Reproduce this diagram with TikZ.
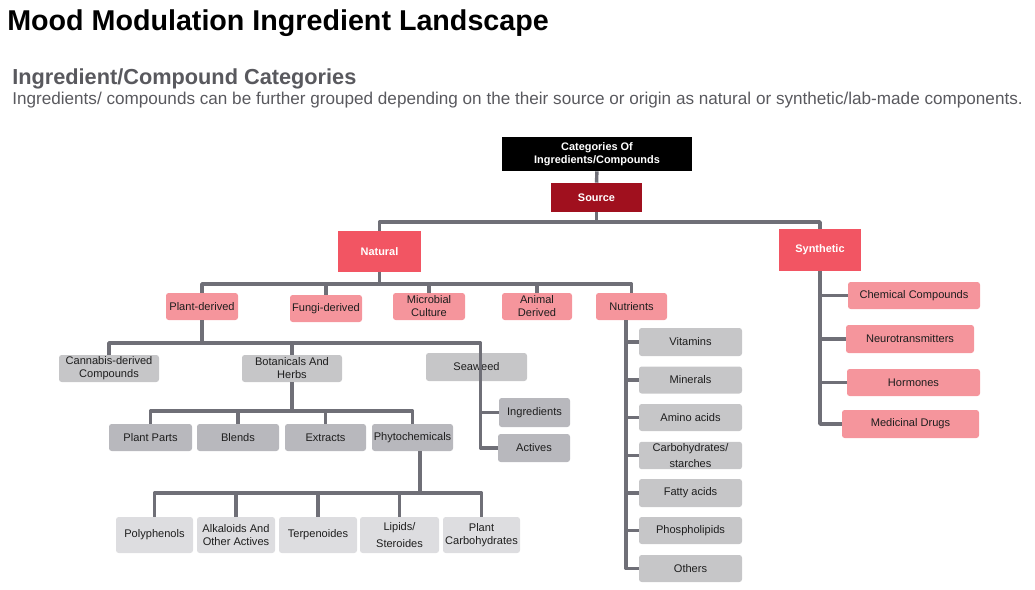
\documentclass[tikz,border=0pt]{standalone}
\usepackage{fontspec}
\setmainfont{Liberation Sans}
\usepackage{tikz}

\definecolor{catbg}{HTML}{000000}
\definecolor{srcbg}{HTML}{A0101E}
\definecolor{natbg}{HTML}{F25563}
\definecolor{pinkbg}{HTML}{F5959C}
\definecolor{greybg}{HTML}{C6C6C8}
\definecolor{darkgreybg}{HTML}{B8B8BD}
\definecolor{lightgreybg}{HTML}{DDDDE0}
\definecolor{linegrey}{HTML}{6F6F77}
\definecolor{headgrey}{HTML}{59595E}
\definecolor{boxtext}{HTML}{1E1E1E}

\tikzset{
    conn/.style={draw=linegrey, line width=2.6pt, line join=round},
    box/.style={rounded corners=2pt, inner sep=1pt, align=center, text=boxtext,
                font=\fontsize{8.3}{9.8}\selectfont},
    sz/.style 2 args={minimum width=#1*0.75pt, minimum height=#2*0.75pt},
    topbox/.style={box, rounded corners=0pt, text=white, font=\fontsize{8.2}{9.8}\selectfont\bfseries},
    pinkbox/.style={box, fill=pinkbg},
    greybox/.style={box, fill=greybg},
    darkbox/.style={box, fill=darkgreybg},
    lightbox/.style={box, fill=lightgreybg}
}

\begin{document}
\begin{tikzpicture}[x=0.75pt,y=-0.75pt]

    \useasboundingbox (0,0) rectangle (1035,589);

    % headings
    \node[anchor=base west, inner sep=0pt, font=\fontsize{21.5}{24}\selectfont\bfseries] (title) at (7,30) {Mood Modulation Ingredient Landscape};
    \node[anchor=base west, inner sep=0pt, text=headgrey, font=\fontsize{16.3}{19}\selectfont\bfseries] (subtitle) at (12,84) {Ingredient/Compound Categories};
    \node[anchor=base west, inner sep=0pt, text=headgrey, font=\fontsize{12.85}{15}\selectfont] (desc) at (12,104) {Ingredients/ compounds can be further grouped depending on the their source or origin as natural or synthetic/lab-made components.};

    % top of the tree
    \node[topbox, fill=catbg, sz={190}{34}] (cat) at (597,154) {Categories Of\\Ingredients/Compounds};
    \node[topbox, fill=srcbg, sz={91}{29}] (src) at (596.5,197.5) {Source};
    \node[topbox, fill=natbg, sz={83}{41}] (nat) at (379.5,251.5) {Natural};
    \node[topbox, fill=natbg, sz={82}{42}] (syn) at (820,250) {Synthetic};

    % natural sources
    \node[pinkbox, sz={72}{27}] (plant) at (202,306.5) {Plant-derived};
    \node[pinkbox, sz={72}{27}] (fungi) at (326,308.5) {Fungi-derived};
    \node[pinkbox, sz={72}{27}] (micro) at (429,306.5) {Microbial\\Culture};
    \node[pinkbox, sz={70}{27}] (animal) at (537,306.5) {Animal\\Derived};
    \node[pinkbox, sz={71}{27}] (nutr) at (631.5,306.5) {Nutrients};

    % plant-derived
    \node[greybox, sz={100}{27}] (cann) at (109,368.5) {Cannabis-derived\\Compounds};
    \node[greybox, sz={100}{27}] (bot) at (292,368.5) {Botanicals And\\Herbs};
    \node[greybox, sz={101}{28}] (sea) at (476.5,367) {Seaweed};

    \node[darkbox, sz={83}{27}] (pparts) at (150.5,437.5) {Plant Parts};
    \node[darkbox, sz={82}{27}] (blends) at (238,437.5) {Blends};
    \node[darkbox, sz={81}{27}] (extr) at (325.5,437.5) {Extracts};
    \node[darkbox, sz={81}{27}] (phyto) at (412.5,437.5) {Phytochemicals};

    \node[darkbox, sz={71}{29}] (ingr) at (534.5,412.5) {Ingredients};
    \node[darkbox, sz={72}{28}] (act) at (534,448) {Actives};

    \node[lightbox, sz={77}{36}] (poly) at (154.5,535) {Polyphenols};
    \node[lightbox, sz={78}{36}] (alk) at (236,535) {Alkaloids And\\Other Actives};
    \node[lightbox, sz={78}{36}] (terp) at (318,535) {Terpenoides};
    \node[lightbox, sz={79}{36}, font=\fontsize{8.3}{12.5}\selectfont] (lip) at (399.5,535) {Lipids/\\Steroides};
    \node[lightbox, sz={77}{36}] (pcarb) at (481.5,535) {Plant\\Carbohydrates};

    % nutrients
    \node[greybox, sz={103}{28}] (vit) at (690.5,342) {Vitamins};
    \node[greybox, sz={103}{27}] (min) at (690.5,380) {Minerals};
    \node[greybox, sz={103}{27}] (amino) at (690.5,417.5) {Amino acids};
    \node[greybox, sz={103}{27}, font=\fontsize{8.3}{12.5}\selectfont] (carb) at (690.5,455.5) {Carbohydrates/\\starches};
    \node[greybox, sz={103}{28}] (fatty) at (690.5,493) {Fatty acids};
    \node[greybox, sz={103}{27}] (phos) at (690.5,530.5) {Phospholipids};
    \node[greybox, sz={103}{27}] (oth) at (690.5,568.5) {Others};

    % synthetic
    \node[pinkbox, sz={132}{27}] (chem) at (914,295.5) {Chemical Compounds};
    \node[pinkbox, sz={128}{28}] (neuro) at (910,339) {Neurotransmitters};
    \node[pinkbox, sz={133}{27}] (horm) at (913.5,382.5) {Hormones};
    \node[pinkbox, sz={137}{28}] (med) at (910.5,424) {Medicinal Drugs};

    % bus lines
    \coordinate (busA) at (0,222);
    \coordinate (busB) at (0,284);
    \coordinate (busC) at (0,343);
    \coordinate (busD) at (0,411);
    \coordinate (busE) at (0,493);
    \coordinate (seastem) at ([xshift=3pt]sea.south);
    \coordinate (nutstem) at ([xshift=-4pt]nutr.south);
    \coordinate (phystem) at ([xshift=5.5pt]phyto.south);

    % connectors
    \draw[conn] (cat) -- (src);
    \draw[conn] (src) -- (src |- busA);
    \draw[conn] (nat) |- (busA -| syn) -- (syn);

    \draw[conn] (nat) -- (nat |- busB);
    \draw[conn] (plant) |- (busB -| nutr) -- (nutr);
    \foreach \nm in {fungi,micro,animal}
      \draw[conn] (\nm) -- (\nm |- busB);

    \draw[conn] (plant) -- (plant |- busC);
    \draw[conn] (cann) |- (busC -| seastem) -- (seastem);
    \draw[conn] (bot) -- (bot |- busC);

    \draw[conn] (bot) -- (bot |- busD);
    \draw[conn] (pparts) |- (busD -| phyto) -- (phyto);
    \foreach \nm in {blends,extr}
      \draw[conn] (\nm) -- (\nm |- busD);

    \draw[conn] (phystem) -- (phystem |- busE);
    \draw[conn] (poly) |- (busE -| pcarb) -- (pcarb);
    \foreach \nm in {alk,terp,lip}
      \draw[conn] (\nm) -- (\nm |- busE);

    \draw[conn] (seastem) |- (act);
    \draw[conn] (ingr) -- (ingr -| seastem);

    \draw[conn] (nutstem) |- (oth);
    \foreach \nm in {vit,min,amino,carb,fatty,phos}
      \draw[conn] (\nm) -- (\nm -| nutstem);

    \draw[conn] (syn) |- (med);
    \foreach \nm in {chem,neuro,horm}
      \draw[conn] (\nm) -- (\nm -| syn);

\end{tikzpicture}
\end{document}
